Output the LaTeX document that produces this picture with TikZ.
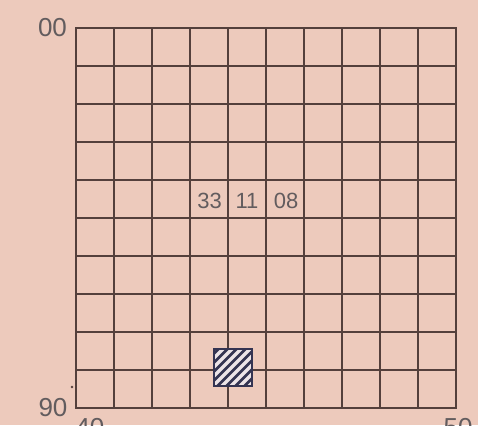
\documentclass[tikz,border=0pt]{standalone}
\usepackage{fontspec}
\setmainfont{Liberation Sans}
\definecolor{bgpink}{RGB}{237,202,188}
\definecolor{gridbrown}{RGB}{84,64,60}
\definecolor{labgray}{RGB}{98,92,94}
\definecolor{hatchnavy}{RGB}{52,52,82}
\definecolor{stripe}{RGB}{236,228,232}
\tikzset{
  gridline/.style={draw=gridbrown, line width=2.1pt, line cap=rect},
  biglabel/.style={text=labgray, font=\fontsize{26}{26}\selectfont, inner sep=0pt},
  cellnum/.style={text=labgray, font=\fontsize{22}{22}\selectfont, inner sep=0pt},
}
\begin{document}
\begin{tikzpicture}[x=1pt,y=-1pt]
\useasboundingbox (0,0) rectangle (478,425);
\clip (0,0) rectangle (478,425);
\fill[bgpink] (0,0) rectangle (478,425);
% grid
\foreach \i in {0,...,10}{
  \draw[gridline] ({76+38*\i},28) -- ({76+38*\i},408);
  \draw[gridline] (76,{28+38*\i}) -- (456,{28+38*\i});
}
% labels
\node[biglabel] (l00) at (52.5,28) {00};
\node[biglabel] (l90) at (53,408) {90};
\node[biglabel, anchor=north] (l40) at (90,418) {40};
\node[biglabel, anchor=north] (l50) at (458,418) {50};
\fill[gridbrown] (72,387) circle (1.3);
% cell numbers
\node[cellnum] (n33) at (209.5,201) {33};
\node[cellnum] (n11) at (247,201) {11};
\node[cellnum] (n08) at (286,201) {08};
% hatched square
\begin{scope}
  \clip (214,349) rectangle (252,386);
  \fill[hatchnavy] (214,349) rectangle (252,386);
  \foreach \k in {-5,...,5}{
    \draw[stripe, line width=3.2pt] ({214+9*\k},394) -- ({214+9*\k+50},344);
  }
\end{scope}
\draw[hatchnavy, line width=1.8pt] (214,349) rectangle (252,386);
\end{tikzpicture}
\end{document}
